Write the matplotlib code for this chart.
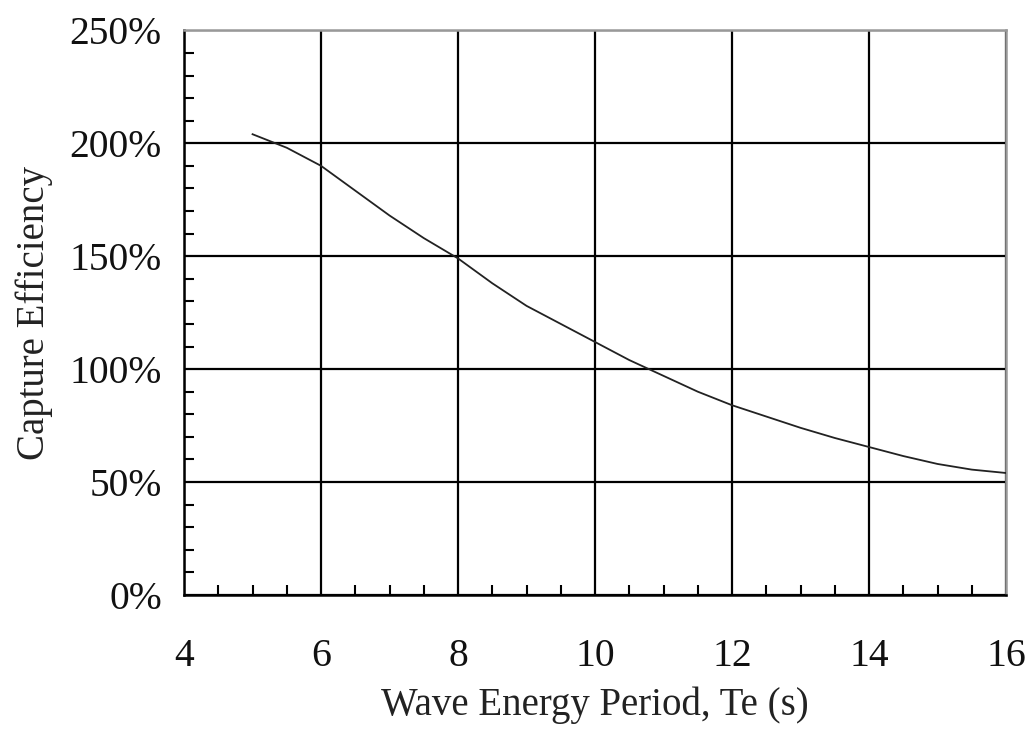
import numpy as np
import matplotlib
matplotlib.use("Agg")
import matplotlib.pyplot as plt
from matplotlib.ticker import MultipleLocator, PercentFormatter

plt.rcParams["font.family"] = ["Liberation Serif", "DejaVu Serif"]

# Capture efficiency curve
period = [5.0, 5.5, 6.0, 6.5, 7.0, 7.5, 8.0, 8.5, 9.0, 9.5, 10.0, 10.5,
          11.0, 11.5, 12.0, 12.5, 13.0, 13.5, 14.0, 14.5, 15.0, 15.5, 16.0]
efficiency = [204, 198, 190, 179, 168, 158, 149, 138, 128, 120, 112, 104,
              97, 90, 84, 79, 74, 69.5, 65.5, 61.5, 58, 55.5, 54]

fig = plt.figure(figsize=(10.34, 7.4), dpi=100)
ax = fig.add_axes([0.178, 0.196, 0.795, 0.763])

ax.plot(period, efficiency, color="#222222", linewidth=1.3,
        solid_joinstyle="round", zorder=3)

ax.set_xlim(4, 16)
ax.set_ylim(0, 250)
ax.xaxis.set_major_locator(MultipleLocator(2))
ax.xaxis.set_minor_locator(MultipleLocator(0.5))
ax.yaxis.set_major_locator(MultipleLocator(50))
ax.yaxis.set_minor_locator(MultipleLocator(10))
ax.yaxis.set_major_formatter(PercentFormatter(decimals=0))

ax.grid(True, which="major", color="black", linewidth=1.6)
ax.tick_params(which="major", length=0, labelsize=28.5, colors="#111111")
ax.tick_params(axis="x", which="major", pad=31)
ax.tick_params(axis="y", which="major", pad=16)
ax.tick_params(which="minor", direction="in", length=7, width=1.5, color="black")

for side in ["left", "bottom"]:
    ax.spines[side].set_color("black")
    ax.spines[side].set_linewidth(1.8)
for side in ["top", "right"]:
    ax.spines[side].set_color("#999999")
    ax.spines[side].set_linewidth(1.8)

ax.set_xlabel("Wave Energy Period, Te (s)", fontsize=28, color="#222222", labelpad=8)
ax.set_ylabel("Capture Efficiency", fontsize=28, color="#222222", labelpad=12)

fig.savefig("out.png", dpi=100)
print("Saved out.png")
